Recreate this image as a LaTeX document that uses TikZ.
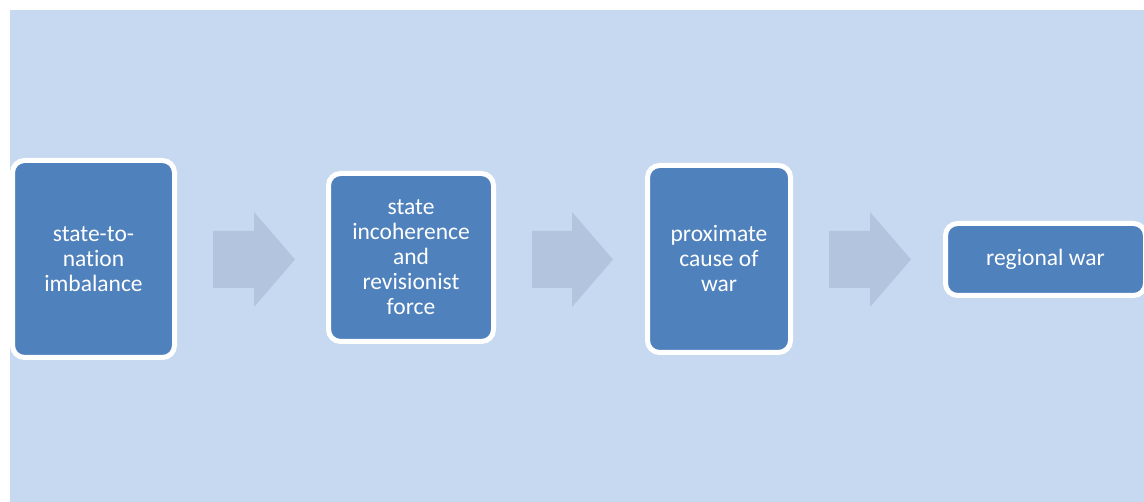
\documentclass[tikz,border=0pt]{standalone}
\usepackage{fontspec}
\setmainfont[Ligatures={NoCommon}]{Carlito}
\definecolor{bgblue}{HTML}{C6D9F1}
\definecolor{boxblue}{HTML}{4F81BD}
\definecolor{arrowblue}{HTML}{B3C4DE}
\tikzset{
  stagebox/.style={rectangle, rounded corners=12pt, fill=boxblue, draw=white,
    line width=5pt, text=white, align=center, inner sep=0pt,
    font=\fontsize{23.5}{25}\selectfont},
  flowarrow/.style={fill=arrowblue},
}
\begin{document}
\begin{tikzpicture}[x=1pt,y=-1pt]
\useasboundingbox (0,0) rectangle (1144,502);
\fill[bgblue] (10,10) rectangle (1144,502);
\node[stagebox, minimum width=162pt, minimum height=197pt] (b1) at (93.5,259) {state-to-\\nation\\imbalance};
\node[stagebox, minimum width=165pt, minimum height=168pt] (b2) at (411,257.5) {state\\incoherence\\and\\revisionist\\force};
\node[stagebox, minimum width=143pt, minimum height=187pt] (b3) at (719,259) {proximate\\cause of\\war};
\node[stagebox, minimum width=200pt, minimum height=72pt] (b4) at (1045.5,259.5) {regional war};
\fill[flowarrow] (213,231) -- (254,231) -- (254,212) -- (295,259.5) -- (254,307) -- (254,288) -- (213,288) -- cycle;
\fill[flowarrow] (532,231) -- (572,231) -- (572,212) -- (613,259.5) -- (572,307) -- (572,288) -- (532,288) -- cycle;
\fill[flowarrow] (829,231) -- (870,231) -- (870,212) -- (911,259.5) -- (870,307) -- (870,288) -- (829,288) -- cycle;
\end{tikzpicture}
\end{document}
